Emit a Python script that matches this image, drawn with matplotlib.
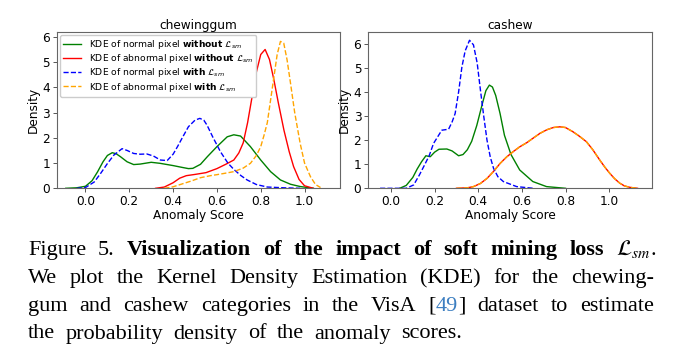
import matplotlib
matplotlib.use('Agg')
import matplotlib.pyplot as plt

# ---- chewinggum panel ----
cg_norm_wo_x = [-0.09, -0.04, 0.0, 0.03, 0.055, 0.08, 0.10, 0.122, 0.14, 0.16, 0.19, 0.22, 0.25, 0.30, 0.34,
                0.40, 0.44, 0.47, 0.49, 0.525, 0.556, 0.60, 0.647, 0.677, 0.708, 0.753, 0.80, 0.845, 0.89,
                0.936, 0.98, 1.04]
cg_norm_wo_y = [0.0, 0.02, 0.08, 0.3, 0.65, 1.05, 1.3, 1.41, 1.37, 1.25, 1.05, 0.94, 0.96, 1.03, 0.99,
                0.9, 0.83, 0.78, 0.79, 0.95, 1.25, 1.65, 2.04, 2.12, 2.07, 1.65, 1.12, 0.66, 0.33,
                0.16, 0.07, 0.0]

cg_abn_wo_x = [0.32, 0.36, 0.40, 0.43, 0.46, 0.50, 0.55, 0.60, 0.64, 0.677, 0.70, 0.72, 0.74, 0.76, 0.78,
               0.80, 0.82, 0.84, 0.86, 0.88, 0.906, 0.93, 0.95, 0.975, 1.0, 1.04]
cg_abn_wo_y = [0.0, 0.05, 0.22, 0.4, 0.5, 0.55, 0.62, 0.78, 0.95, 1.12, 1.4, 1.8, 2.6, 3.6, 4.6,
               5.3, 5.5, 5.1, 4.3, 3.4, 2.3, 1.45, 0.86, 0.35, 0.1, 0.0]

cg_norm_w_x = [-0.04, 0.0, 0.04, 0.07, 0.10, 0.13, 0.167, 0.19, 0.22, 0.25, 0.28, 0.31, 0.342, 0.373,
               0.40, 0.42, 0.445, 0.47, 0.50, 0.522, 0.54, 0.555, 0.58, 0.616, 0.65, 0.677, 0.71, 0.738,
               0.78, 0.83, 0.906, 0.98]
cg_norm_w_y = [0.0, 0.03, 0.25, 0.6, 0.98, 1.32, 1.57, 1.5, 1.38, 1.35, 1.36, 1.28, 1.12, 1.1,
               1.35, 1.65, 2.05, 2.44, 2.7, 2.77, 2.7, 2.5, 2.05, 1.45, 1.0, 0.75, 0.5, 0.33,
               0.15, 0.05, 0.02, 0.0]

cg_abn_w_x = [0.36, 0.40, 0.44, 0.48, 0.525, 0.57, 0.60, 0.64, 0.677, 0.72, 0.753, 0.78, 0.80, 0.815,
              0.83, 0.845, 0.86, 0.875, 0.89, 0.905, 0.92, 0.936, 0.955, 0.98, 1.0, 1.027, 1.05, 1.073]
cg_abn_w_y = [0.0, 0.06, 0.17, 0.28, 0.42, 0.5, 0.54, 0.6, 0.66, 0.8, 0.99, 1.3, 1.65, 2.1,
              2.6, 3.5, 4.4, 5.3, 5.82, 5.75, 5.1, 4.16, 3.0, 1.78, 1.0, 0.46, 0.15, 0.03]

# ---- cashew panel ----
ca_norm_wo_x = [0.04, 0.07, 0.10, 0.12, 0.14, 0.16, 0.18, 0.20, 0.22, 0.256, 0.28, 0.31, 0.33, 0.35,
                0.37, 0.393, 0.42, 0.435, 0.451, 0.465, 0.48, 0.50, 0.52, 0.55, 0.59, 0.65, 0.713, 0.8]
ca_norm_wo_y = [0.0, 0.12, 0.45, 0.8, 1.1, 1.35, 1.31, 1.5, 1.62, 1.63, 1.55, 1.35, 1.4, 1.6,
                1.95, 2.6, 3.55, 4.05, 4.28, 4.2, 3.85, 3.1, 2.2, 1.4, 0.76, 0.28, 0.07, 0.0]

ca_norm_w_x = [-0.05, 0.07, 0.104, 0.13, 0.15, 0.175, 0.195, 0.215, 0.233, 0.264, 0.28, 0.294, 0.31,
               0.325, 0.34, 0.36, 0.378, 0.395, 0.41, 0.425, 0.44, 0.455, 0.47, 0.49, 0.515, 0.576, 0.652]
ca_norm_w_y = [0.0, 0.0, 0.14, 0.55, 0.9, 1.35, 1.86, 2.15, 2.41, 2.45, 2.75, 3.1, 4.0,
               5.03, 5.7, 6.14, 5.95, 5.2, 4.07, 3.0, 2.0, 1.3, 0.83, 0.48, 0.28, 0.07, 0.0]

ca_abn_x = [0.3, 0.35, 0.378, 0.41, 0.44, 0.47, 0.5, 0.53, 0.56, 0.59, 0.622, 0.65, 0.683, 0.715, 0.744,
            0.774, 0.80, 0.835, 0.865, 0.896, 0.925, 0.957, 0.98, 1.003, 1.025, 1.049, 1.07, 1.095, 1.13]
ca_abn_wo_y = [0.0, 0.02, 0.07, 0.2, 0.41, 0.7, 1.03, 1.3, 1.52, 1.72, 1.89, 2.07, 2.28, 2.43, 2.52,
               2.55, 2.52, 2.34, 2.15, 1.93, 1.6, 1.17, 0.88, 0.62, 0.4, 0.21, 0.1, 0.04, 0.0]
ca_abn_w_y = ca_abn_wo_y  # the two cashew abnormal curves lie on top of each other

legend_labels = [
    r'KDE of normal pixel $\bf{without}$ $\mathcal{L}_{sm}$',
    r'KDE of abnormal pixel $\bf{without}$ $\mathcal{L}_{sm}$',
    r'KDE of normal pixel $\bf{with}$ $\mathcal{L}_{sm}$',
    r'KDE of abnormal pixel $\bf{with}$ $\mathcal{L}_{sm}$',
]
xticks = [0.0, 0.2, 0.4, 0.6, 0.8, 1.0]
yticks = [0, 1, 2, 3, 4, 5, 6]

W, H = 696, 360
FS = 8.7
CAP_FS = 16


def draw_panel(ax, curves, title, xlim, ylim, with_legend=False):
    styles = [('green', '-'), ('red', '-'), ('blue', '--'), ('orange', '--')]
    for (x, y), (c, ls), lab in zip(curves, styles, legend_labels):
        ax.plot(x, y, color=c, ls=ls, lw=1.0, label=lab)
    ax.set_xlim(*xlim)
    ax.set_ylim(*ylim)
    ax.set_xticks(xticks)
    ax.set_yticks(yticks)
    ax.set_title(title, fontsize=FS, pad=2.5)
    ax.set_xlabel('Anomaly Score', fontsize=FS, labelpad=0.5)
    ax.set_ylabel('Density', fontsize=FS, labelpad=2)
    ax.tick_params(labelsize=FS, length=3, width=0.7, pad=2, color='#555555')
    for s in ax.spines.values():
        s.set_color('#666666')
        s.set_linewidth(0.8)
    if with_legend:
        ax.legend(loc='upper left', fontsize=6.6, borderaxespad=0.3, handlelength=2.0,
                  handletextpad=0.8, labelspacing=0.12, borderpad=0.35, framealpha=1.0)


fig = plt.figure(figsize=(W / 100, H / 100), dpi=100)
ax1 = fig.add_axes([57 / W, 1 - 188.3 / H, 282.6 / W, 156 / H])
ax2 = fig.add_axes([368.3 / W, 1 - 188.3 / H, 283.4 / W, 156 / H])

draw_panel(ax1, [(cg_norm_wo_x, cg_norm_wo_y), (cg_abn_wo_x, cg_abn_wo_y),
                 (cg_norm_w_x, cg_norm_w_y), (cg_abn_w_x, cg_abn_w_y)],
           'chewinggum', (-0.13, 1.16), (0, 6.18), with_legend=True)
draw_panel(ax2, [(ca_norm_wo_x, ca_norm_wo_y), (ca_abn_x, ca_abn_wo_y),
                 (ca_norm_w_x, ca_norm_w_y), (ca_abn_x, ca_abn_w_y)],
           'cashew', (-0.104, 1.195), (0, 6.47))

# ---- caption (justified like the LaTeX source) ----
def words(text, style):
    return [[(w, style)] for w in text.split()]


caption = [
    words('Figure 5.', 'r') + words('Visualization of the impact of soft mining loss', 'b')
    + [[(r'$\mathcal{L}_{sm}$', 'm'), ('.', 'r')]],
    words('We plot the Kernel Density Estimation (KDE) for the chewing-', 'r'),
    words('gum and cashew categories in the VisA', 'r') + [[('[', 'r'), ('49', 'c'), (']', 'r')]]
    + words('dataset to estimate', 'r'),
    words('the probability density of the anomaly scores.', 'r'),
]
baselines = [255, 283.3, 310.9, 338.5]
left = 28
rights = [656, 654, 654, 462]

base_kw = dict(family='Liberation Serif', fontsize=CAP_FS, color='black', math_fontfamily='stix')
style_kw = {
    'r': dict(),
    'b': dict(weight='bold'),
    'm': dict(),
    'c': dict(color='#3d7fc1'),
}

renderer = fig.canvas.get_renderer()

for i, line in enumerate(caption):
    y = 1 - baselines[i] / H
    placed = []
    for word in line:
        segs = []
        for txt, st in word:
            t = fig.text(0, y, txt, va='baseline', ha='left', **{**base_kw, **style_kw[st]})
            segs.append((t, t.get_window_extent(renderer).width))
        placed.append(segs)
    word_w = [sum(w for _, w in segs) for segs in placed]
    gap = (rights[i] - left - sum(word_w)) / (len(placed) - 1)
    x = left
    for segs, ww in zip(placed, word_w):
        sx = x
        for t, w in segs:
            t.set_x(sx / W)
            sx += w
        x += ww + gap

fig.savefig('out.png', dpi=100)
